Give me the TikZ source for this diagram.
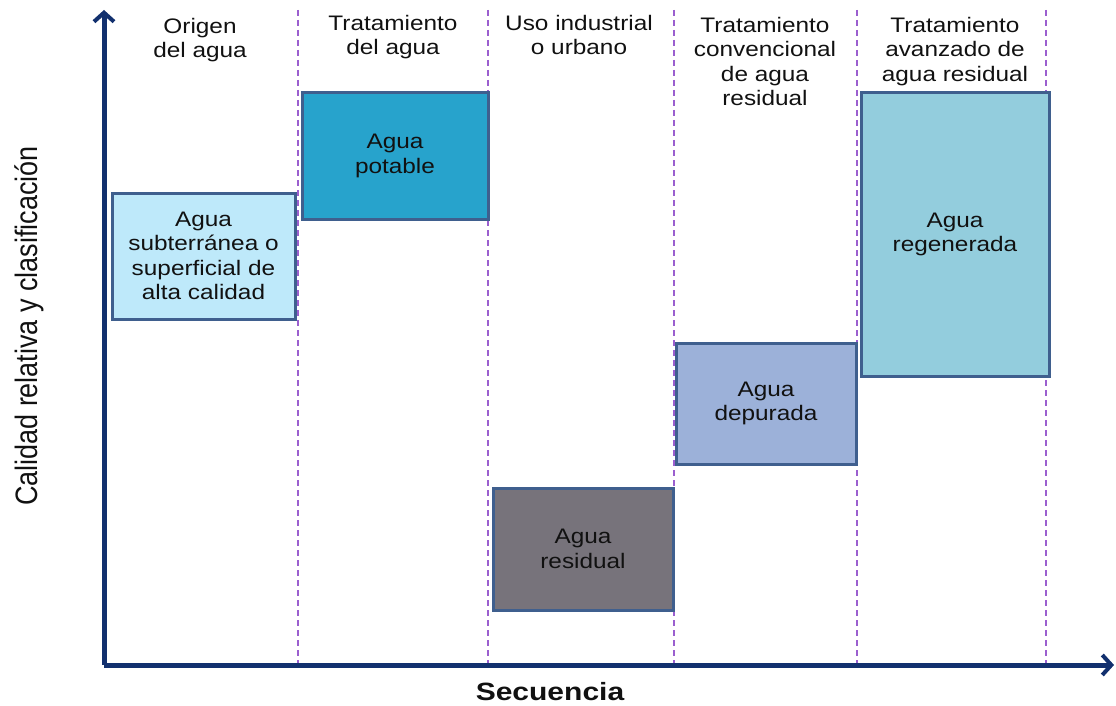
\documentclass[tikz,border=0pt]{standalone}
\usepackage{fontspec}
\setmainfont{Liberation Sans}
\newfontfamily\hdrfont[FakeStretch=1.16]{Liberation Sans}
\newfontfamily\seqfont[FakeStretch=1.2]{Liberation Sans}
\newfontfamily\ylabfont[FakeStretch=0.87]{Liberation Sans}
\usetikzlibrary{arrows.meta}
\definecolor{axiscol}{HTML}{12306E}
\definecolor{dashcol}{HTML}{9B5FCF}
\definecolor{edgecol}{HTML}{3F5F8E}
\definecolor{fillA}{HTML}{BEE9FA}
\definecolor{fillB}{HTML}{27A3CC}
\definecolor{fillC}{HTML}{77737B}
\definecolor{fillD}{HTML}{9CB1D9}
\definecolor{fillE}{HTML}{93CDDD}
\definecolor{txtcol}{HTML}{111111}
\tikzset{
  axisline/.style={draw=axiscol, line width=5pt, -{Straight Barb[length=9pt,width=20pt,line width=4pt]}},
  sepline/.style={draw=dashcol, line width=2.3pt, dash pattern=on 6pt off 4pt},
  waterbox/.style={draw=edgecol, line width=3pt, rectangle, inner sep=0pt, align=center,
     text=txtcol, font=\hdrfont\fontsize{21}{24.5}\selectfont},
  header/.style={anchor=north, inner sep=0pt, align=center, text=txtcol,
     font=\hdrfont\fontsize{21}{24.5}\selectfont},
}
\begin{document}
\begin{tikzpicture}[x=1pt,y=-1pt]
\useasboundingbox (0,0) rectangle (1116,706);
% separators
\foreach \xx/\nm in {298/s1,488/s2,674/s3,857/s4,1046/s5}{
  \coordinate (\nm t) at (\xx,10);
  \coordinate (\nm b) at (\xx,665);
  \draw[sepline] (\nm t) -- (\nm b);
}
% boxes
\node[waterbox, fill=fillA, minimum width=183pt, minimum height=126pt] (b1) at (203.5,256)
  {Agua\\subterránea o\\superficial de\\alta calidad};
\node[waterbox, fill=fillB, minimum width=186pt, minimum height=126pt] (b2) at (395,156)
  {Agua\\potable};
\node[waterbox, fill=fillC, minimum width=180pt, minimum height=122pt] (b3) at (583,549)
  {Agua\\residual};
\node[waterbox, fill=fillD, minimum width=180pt, minimum height=121pt] (b4) at (766,403.5)
  {Agua\\depurada};
\node[waterbox, fill=fillE, minimum width=188pt, minimum height=283pt] (b5) at (955,234.5)
  {Agua\\regenerada};
% headers
\node[header] (h1) at (200,18) {Origen\\del agua};
\node[header] (h2) at (393,15) {Tratamiento\\del agua};
\node[header] (h3) at (579,15) {Uso industrial\\o urbano};
\node[header] (h4) at (765,17) {Tratamiento\\convencional\\de agua\\residual};
\node[header] (h5) at (955,17) {Tratamiento\\avanzado de\\agua residual};
% axes
\coordinate (o) at (104,665);
\coordinate (ytip) at (104,10);
\coordinate (xtip) at (1114,665);
\draw[axisline] (o) -- (ytip);
\draw[axisline] (o) -- (xtip);
\node[rotate=90, text=txtcol, font=\ylabfont\fontsize{31}{34}\selectfont, inner sep=0pt] (ylab) at (29,326) {Calidad relativa y clasificación};
\node[text=txtcol, font=\seqfont\bfseries\fontsize{25}{28}\selectfont, inner sep=0pt] (xlab) at (550,692) {Secuencia};
\end{tikzpicture}
\end{document}
